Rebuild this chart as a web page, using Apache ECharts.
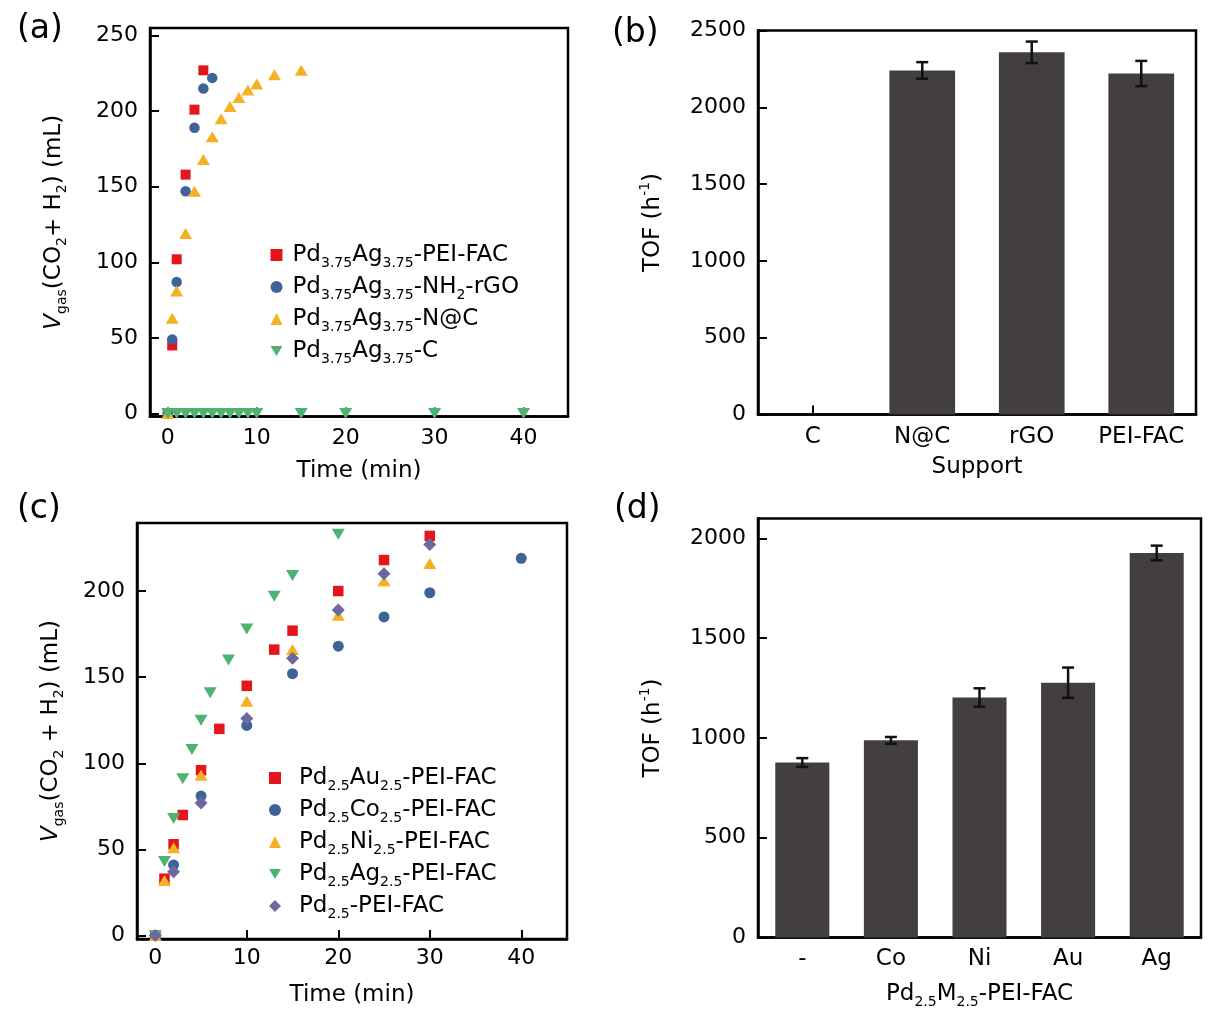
<!DOCTYPE html>
<html><head><meta charset="utf-8">
<script src="https://cdn.jsdelivr.net/npm/echarts@6/dist/echarts.min.js"></script>
<style>html,body{margin:0;padding:0;background:#fff}#chart{width:1227px;height:1029px}</style>
</head><body><div id="chart"></div>
<script>
// ---------- Panel (a) data ----------
const namesA = ['Pd3.75Ag3.75-PEI-FAC', 'Pd3.75Ag3.75-NH2-rGO', 'Pd3.75Ag3.75-N@C', 'Pd3.75Ag3.75-C'];
const richNamesA = ['Pd{s|3.75}Ag{s|3.75}-PEI-FAC', 'Pd{s|3.75}Ag{s|3.75}-NH{s|2}-rGO', 'Pd{s|3.75}Ag{s|3.75}-N@C', 'Pd{s|3.75}Ag{s|3.75}-C'];
const tA_PEI = [0, 0.5, 1, 2, 3, 4];
const vA_PEI = [0, 45, 102, 158, 201, 227];
const tA_rGO = [0, 0.5, 1, 2, 3, 4, 5];
const vA_rGO = [0, 49, 87, 147, 189, 215, 222];
const tA_NC = [0, 0.5, 1, 2, 3, 4, 5, 6, 7, 8, 9, 10, 12, 15];
const vA_NC = [0, 63, 81, 119, 147, 168, 183, 195, 203, 209, 214, 218, 224, 227];
const tA_C = [0, 1, 2, 3, 4, 5, 6, 7, 8, 9, 10, 15, 20, 30, 40];
const vA_C = [0, 0, 0, 0, 0, 0, 0, 0, 0, 0, 0, 0, 0, 0, 0];
const xTicksA = [0, 10, 20, 30, 40];
const yTicksA = [0, 50, 100, 150, 200, 250];

// ---------- Panel (b) data ----------
const catsB = ['C', 'N@C', 'rGO', 'PEI-FAC'];
const tofB = [0, 2240, 2358, 2220];
const errB = [null, 54, 70, 82];
const yTicksB = [0, 500, 1000, 1500, 2000, 2500];

// ---------- Panel (c) data ----------
const namesC = ['Pd2.5Au2.5-PEI-FAC', 'Pd2.5Co2.5-PEI-FAC', 'Pd2.5Ni2.5-PEI-FAC', 'Pd2.5Ag2.5-PEI-FAC', 'Pd2.5-PEI-FAC'];
const richNamesC = ['Pd{s|2.5}Au{s|2.5}-PEI-FAC', 'Pd{s|2.5}Co{s|2.5}-PEI-FAC', 'Pd{s|2.5}Ni{s|2.5}-PEI-FAC', 'Pd{s|2.5}Ag{s|2.5}-PEI-FAC', 'Pd{s|2.5}-PEI-FAC'];
const tC_Au = [0, 1, 2, 3, 5, 7, 10, 13, 15, 20, 25, 30];
const vC_Au = [0, 33, 53, 70, 96, 120, 145, 166, 177, 200, 218, 232];
const tC_Co = [0, 2, 5, 10, 15, 20, 25, 30, 40];
const vC_Co = [0, 41, 81, 122, 152, 168, 185, 199, 219];
const tC_Ni = [0, 1, 2, 5, 10, 15, 20, 25, 30];
const vC_Ni = [0, 32, 51, 93, 136, 166, 186, 206, 216];
const tC_Ag = [0, 1, 2, 3, 4, 5, 6, 8, 10, 13, 15, 20];
const vC_Ag = [0, 43, 68, 91, 108, 125, 141, 160, 178, 197, 209, 233];
const tC_Pd = [0, 2, 5, 10, 15, 20, 25, 30];
const vC_Pd = [0, 37, 77, 126, 161, 189, 210, 227];
const xTicksC = [0, 10, 20, 30, 40];
const yTicksC = [0, 50, 100, 150, 200];

// ---------- Panel (d) data ----------
const catsD = ['-', 'Co', 'Ni', 'Au', 'Ag'];
const tofD = [877, 988, 1203, 1277, 1927];
const errD = [22, 17, 46, 76, 37];
const yTicksD = [0, 500, 1000, 1500, 2000];

// ---------- styles ----------
const FONT = 'DejaVu Sans';
const C_RED = '#e3161b', C_BLUE = '#3d6399', C_ORANGE = '#f5b025', C_GREEN = '#4db36f', C_PURPLE = '#6b699d', C_BAR = '#433f3e';
const INV_TRI = 'path://M0,0 L20,0 L10,17 Z';

const zip = (t, v) => t.map((x, i) => [x, v[i]]);

const subRich = {
  s: { fontFamily: FONT, fontSize: 14, lineHeight: 14, verticalAlign: 'bottom', color: '#000' },
  p: { fontFamily: FONT, fontSize: 14, lineHeight: 18, verticalAlign: 'top', color: '#000' },
  i: { fontFamily: FONT, fontSize: 23, lineHeight: 30, fontStyle: 'italic', color: '#000' }
};
const nameStyle = { fontFamily: FONT, fontSize: 23, lineHeight: 30, color: '#000', rich: subRich };
const labelStyle = { fontFamily: FONT, fontSize: 22, color: '#000' };
const plain = v => String(v);

function axisLineCfg() { return { show: true, onZero: false, lineStyle: { color: '#000', width: 2.5 } }; }

function valueX(grid, min, max, ticks, name, gap, margin) {
  return {
    type: 'value', gridIndex: grid, min, max,
    axisLine: axisLineCfg(),
    axisTick: { show: true, inside: true, length: 9, lineStyle: { color: '#000', width: 2 }, customValues: ticks },
    axisLabel: Object.assign({ customValues: ticks, margin, formatter: plain }, labelStyle),
    splitLine: { show: false },
    name, nameLocation: 'middle', nameGap: gap, nameTextStyle: nameStyle
  };
}
function valueY(grid, min, max, ticks, name, gap) {
  return {
    type: 'value', gridIndex: grid, min, max,
    axisLine: axisLineCfg(),
    axisTick: { show: true, inside: true, length: 9, lineStyle: { color: '#000', width: 2 }, customValues: ticks },
    axisLabel: Object.assign({ customValues: ticks, margin: 12, formatter: plain }, labelStyle),
    splitLine: { show: false },
    name, nameLocation: 'middle', nameGap: gap, nameTextStyle: nameStyle
  };
}
function catX(grid, cats, name, gap, margin) {
  return {
    type: 'category', gridIndex: grid, data: cats,
    axisLine: axisLineCfg(),
    axisTick: { show: true, inside: true, alignWithLabel: true, length: 9, lineStyle: { color: '#000', width: 2 } },
    axisLabel: Object.assign({ margin, interval: 0 }, labelStyle, { fontSize: 23 }),
    splitLine: { show: false },
    name, nameLocation: 'middle', nameGap: gap, nameTextStyle: nameStyle
  };
}

function scatter(name, xi, data, symbol, size, color) {
  return {
    type: 'scatter', name, xAxisIndex: xi, yAxisIndex: xi, data,
    symbol, symbolSize: size,
    itemStyle: { color, opacity: 1 }
  };
}

function errSeries(xi, vals, errs) {
  const data = [];
  vals.forEach((v, i) => { if (errs[i] != null) data.push([i, v, errs[i]]); });
  return {
    type: 'custom', xAxisIndex: xi, yAxisIndex: xi, z: 5, data,
    encode: { x: 0, y: 1 },
    renderItem: (params, api) => {
      const i = api.value(0), v = api.value(1), e = api.value(2);
      const p1 = api.coord([i, v + e]), p2 = api.coord([i, v - e]);
      const w = 6;
      const st = { stroke: '#111', lineWidth: 2.5 };
      return {
        type: 'group', children: [
          { type: 'line', shape: { x1: p1[0], y1: p1[1], x2: p2[0], y2: p2[1] }, style: st },
          { type: 'line', shape: { x1: p1[0] - w, y1: p1[1], x2: p1[0] + w, y2: p1[1] }, style: st },
          { type: 'line', shape: { x1: p2[0] - w, y1: p2[1], x2: p2[0] + w, y2: p2[1] }, style: st }
        ]
      };
    }
  };
}

const gridBase = { show: true, borderColor: '#000', borderWidth: 2.5, backgroundColor: 'transparent', containLabel: false };

const legendText = {
  fontFamily: FONT, fontSize: 23, lineHeight: 30, color: '#000',
  rich: { s: subRich.s }
};

const option = {
  animation: false,
  backgroundColor: '#fff',
  grid: [
    Object.assign({ left: 150, top: 28, right: 659, bottom: 612.5 }, gridBase),
    Object.assign({ left: 758, top: 30.5, right: 31, bottom: 614.5 }, gridBase),
    Object.assign({ left: 137, top: 523, right: 660, bottom: 90 }, gridBase),
    Object.assign({ left: 758, top: 518.5, right: 26, bottom: 91.5 }, gridBase)
  ],
  xAxis: [
    valueX(0, -2, 45, xTicksA, 'Time (min)', 40, 11),
    catX(1, catsB, 'Support', 38, 11),
    valueX(2, -2, 45, xTicksC, 'Time (min)', 41, 8),
    catX(3, catsD, 'Pd{s|2.5}M{s|2.5}-PEI-FAC', 42, 10)
  ],
  yAxis: [
    valueY(0, -2, 255, yTicksA, '{i|V}{s|gas}(CO{s|2}+ H{s|2}) (mL)', 81),
    valueY(1, 0, 2500, yTicksB, 'TOF (h{p|-1})', 90),
    valueY(2, -2, 239.5, yTicksC, '{i|V}{s|gas}(CO{s|2} + H{s|2}) (mL)', 71),
    valueY(3, 0, 2100, yTicksD, 'TOF (h{p|-1})', 90)
  ],
  legend: [
    {
      data: namesA, orient: 'vertical', left: 270.5, top: 240, padding: 0, itemGap: 2,
      itemWidth: 12, itemHeight: 12,
      formatter: n => richNamesA[namesA.indexOf(n)],
      textStyle: Object.assign({ padding: [0, 0, 0, 5] }, legendText)
    },
    {
      data: namesC, orient: 'vertical', left: 269, top: 763, padding: 0, itemGap: 2,
      itemWidth: 12, itemHeight: 12,
      formatter: n => richNamesC[namesC.indexOf(n)],
      textStyle: Object.assign({ padding: [0, 0, 0, 13] }, legendText)
    }
  ],
  graphic: [
    { type: 'text', left: 17, top: 13, style: { text: '(a)', font: '33px "DejaVu Sans"', fill: '#000' } },
    { type: 'text', left: 612, top: 17, style: { text: '(b)', font: '33px "DejaVu Sans"', fill: '#000' } },
    { type: 'text', left: 17, top: 493, style: { text: '(c)', font: '33px "DejaVu Sans"', fill: '#000' } },
    { type: 'text', left: 614, top: 493, style: { text: '(d)', font: '33px "DejaVu Sans"', fill: '#000' } }
  ],
  series: [
    scatter(namesA[0], 0, zip(tA_PEI, vA_PEI), 'rect', 10, C_RED),
    scatter(namesA[1], 0, zip(tA_rGO, vA_rGO), 'circle', 10.5, C_BLUE),
    scatter(namesA[2], 0, zip(tA_NC, vA_NC), 'triangle', [13, 11], C_ORANGE),
    scatter(namesA[3], 0, zip(tA_C, vA_C), INV_TRI, [13, 11], C_GREEN),
    { type: 'bar', xAxisIndex: 1, yAxisIndex: 1, data: tofB, barWidth: '60%', itemStyle: { color: C_BAR } },
    errSeries(1, tofB, errB),
    scatter(namesC[0], 2, zip(tC_Au, vC_Au), 'rect', 10.5, C_RED),
    scatter(namesC[1], 2, zip(tC_Co, vC_Co), 'circle', 11, C_BLUE),
    scatter(namesC[2], 2, zip(tC_Ni, vC_Ni), 'triangle', [13, 11], C_ORANGE),
    scatter(namesC[3], 2, zip(tC_Ag, vC_Ag), INV_TRI, [13, 11], C_GREEN),
    scatter(namesC[4], 2, zip(tC_Pd, vC_Pd), 'diamond', 13, C_PURPLE),
    { type: 'bar', xAxisIndex: 3, yAxisIndex: 3, data: tofD, barWidth: '61%', itemStyle: { color: C_BAR } },
    errSeries(3, tofD, errD)
  ]
};

const chart = echarts.init(document.getElementById('chart'), null, { renderer: 'canvas' });
chart.setOption(option);
</script></body></html>
